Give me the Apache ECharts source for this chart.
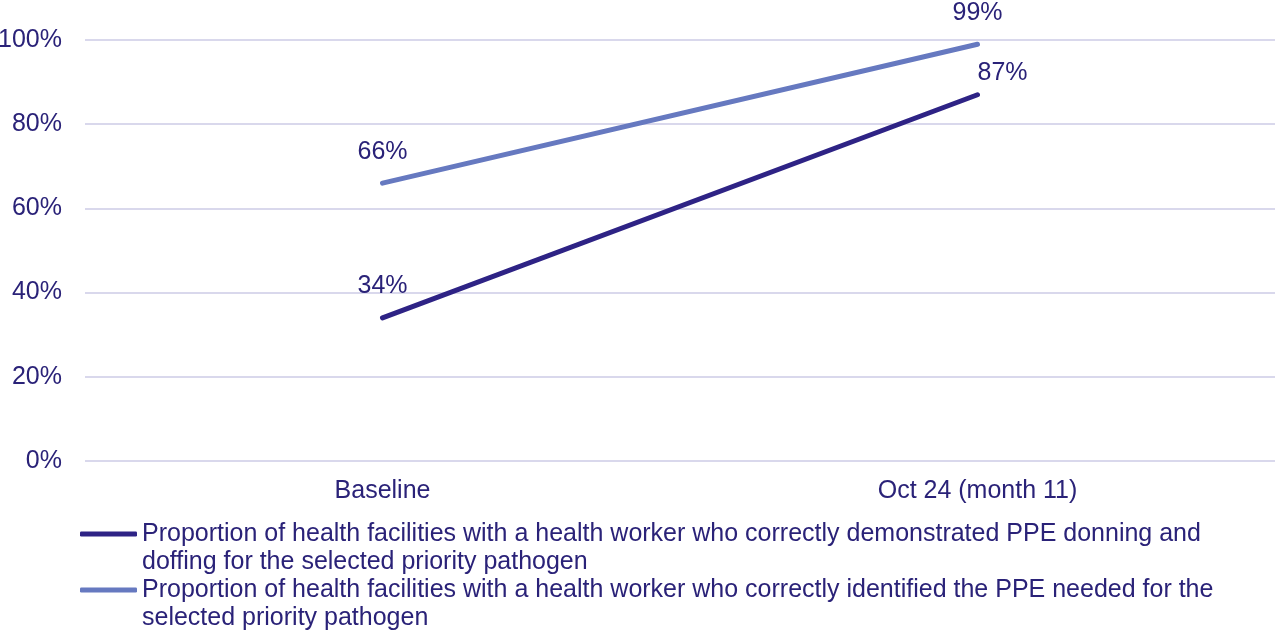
<!DOCTYPE html>
<html><head><meta charset="utf-8">
<script src="https://cdn.jsdelivr.net/npm/echarts@6/dist/echarts.min.js"></script>
<style>html,body{margin:0;padding:0;background:#fff}#c{width:1280px;height:635px}</style>
</head><body><div id="c"></div>
<script>
var categories = ['Baseline', 'Oct 24 (month 11)'];
var donningDoffing = [34, 87];
var identifiedPPE = [66, 99];
var seriesNames = [
  'Proportion of health facilities with a health worker who correctly demonstrated PPE donning and doffing for the selected priority pathogen',
  'Proportion of health facilities with a health worker who correctly identified the PPE needed for the selected priority pathogen'
];
var legendLines = {};
legendLines[seriesNames[0]] = '\nProportion of health facilities with a health worker who correctly demonstrated PPE donning and\ndoffing for the selected priority pathogen';
legendLines[seriesNames[1]] = '\nProportion of health facilities with a health worker who correctly identified the PPE needed for the\nselected priority pathogen';
var yTicks = [0, 20, 40, 60, 80, 100];

var textColor = '#2a2278';
var font = 'Liberation Sans, Arial, sans-serif';
var chart = echarts.init(document.getElementById('c'));
function lbl() {
  return {
    show: true, position: 'top', distance: 19,
    color: textColor, fontSize: 25, fontFamily: font,
    formatter: function (p) { return p.value + '%'; }
  };
}
chart.setOption({
  animation: false,
  grid: { left: 85, right: 5, top: 40, bottom: 174, containLabel: false, outerBoundsMode: 'none' },
  xAxis: {
    type: 'category', data: categories, boundaryGap: true,
    axisLine: { show: false }, axisTick: { show: false },
    axisLabel: { color: textColor, fontSize: 25, fontFamily: font, margin: 18 }
  },
  yAxis: {
    type: 'value', min: yTicks[0], max: yTicks[yTicks.length - 1], interval: 20,
    axisLabel: { color: textColor, fontSize: 25, fontFamily: font, margin: 23, formatter: '{value}%' },
    splitLine: { lineStyle: { color: '#d9d8ec', width: 2 } },
    axisLine: { show: false }, axisTick: { show: false }
  },
  legend: {
    orient: 'vertical', left: 80, top: 492, padding: 0, itemGap: -28,
    itemWidth: 57, itemHeight: 5, icon: 'roundRect',
    formatter: function (n) { return legendLines[n]; },
    textStyle: { color: textColor, fontSize: 25, fontFamily: font, lineHeight: 28 },
    data: seriesNames
  },
  series: [
    {
      name: seriesNames[0], type: 'line', data: donningDoffing,
      showSymbol: true, symbol: 'circle', symbolSize: 0, color: '#2e2385',
      lineStyle: { width: 5, cap: 'round', color: '#2e2385' },
      label: lbl(),
      labelLayout: function (p) { return p.dataIndex === 1 ? { dx: 25, dy: 10 } : {}; }
    },
    {
      name: seriesNames[1], type: 'line', data: identifiedPPE,
      showSymbol: true, symbol: 'circle', symbolSize: 0, color: '#6679c0',
      lineStyle: { width: 5, cap: 'round', color: '#6679c0' },
      label: lbl()
    }
  ]
});
</script></body></html>
